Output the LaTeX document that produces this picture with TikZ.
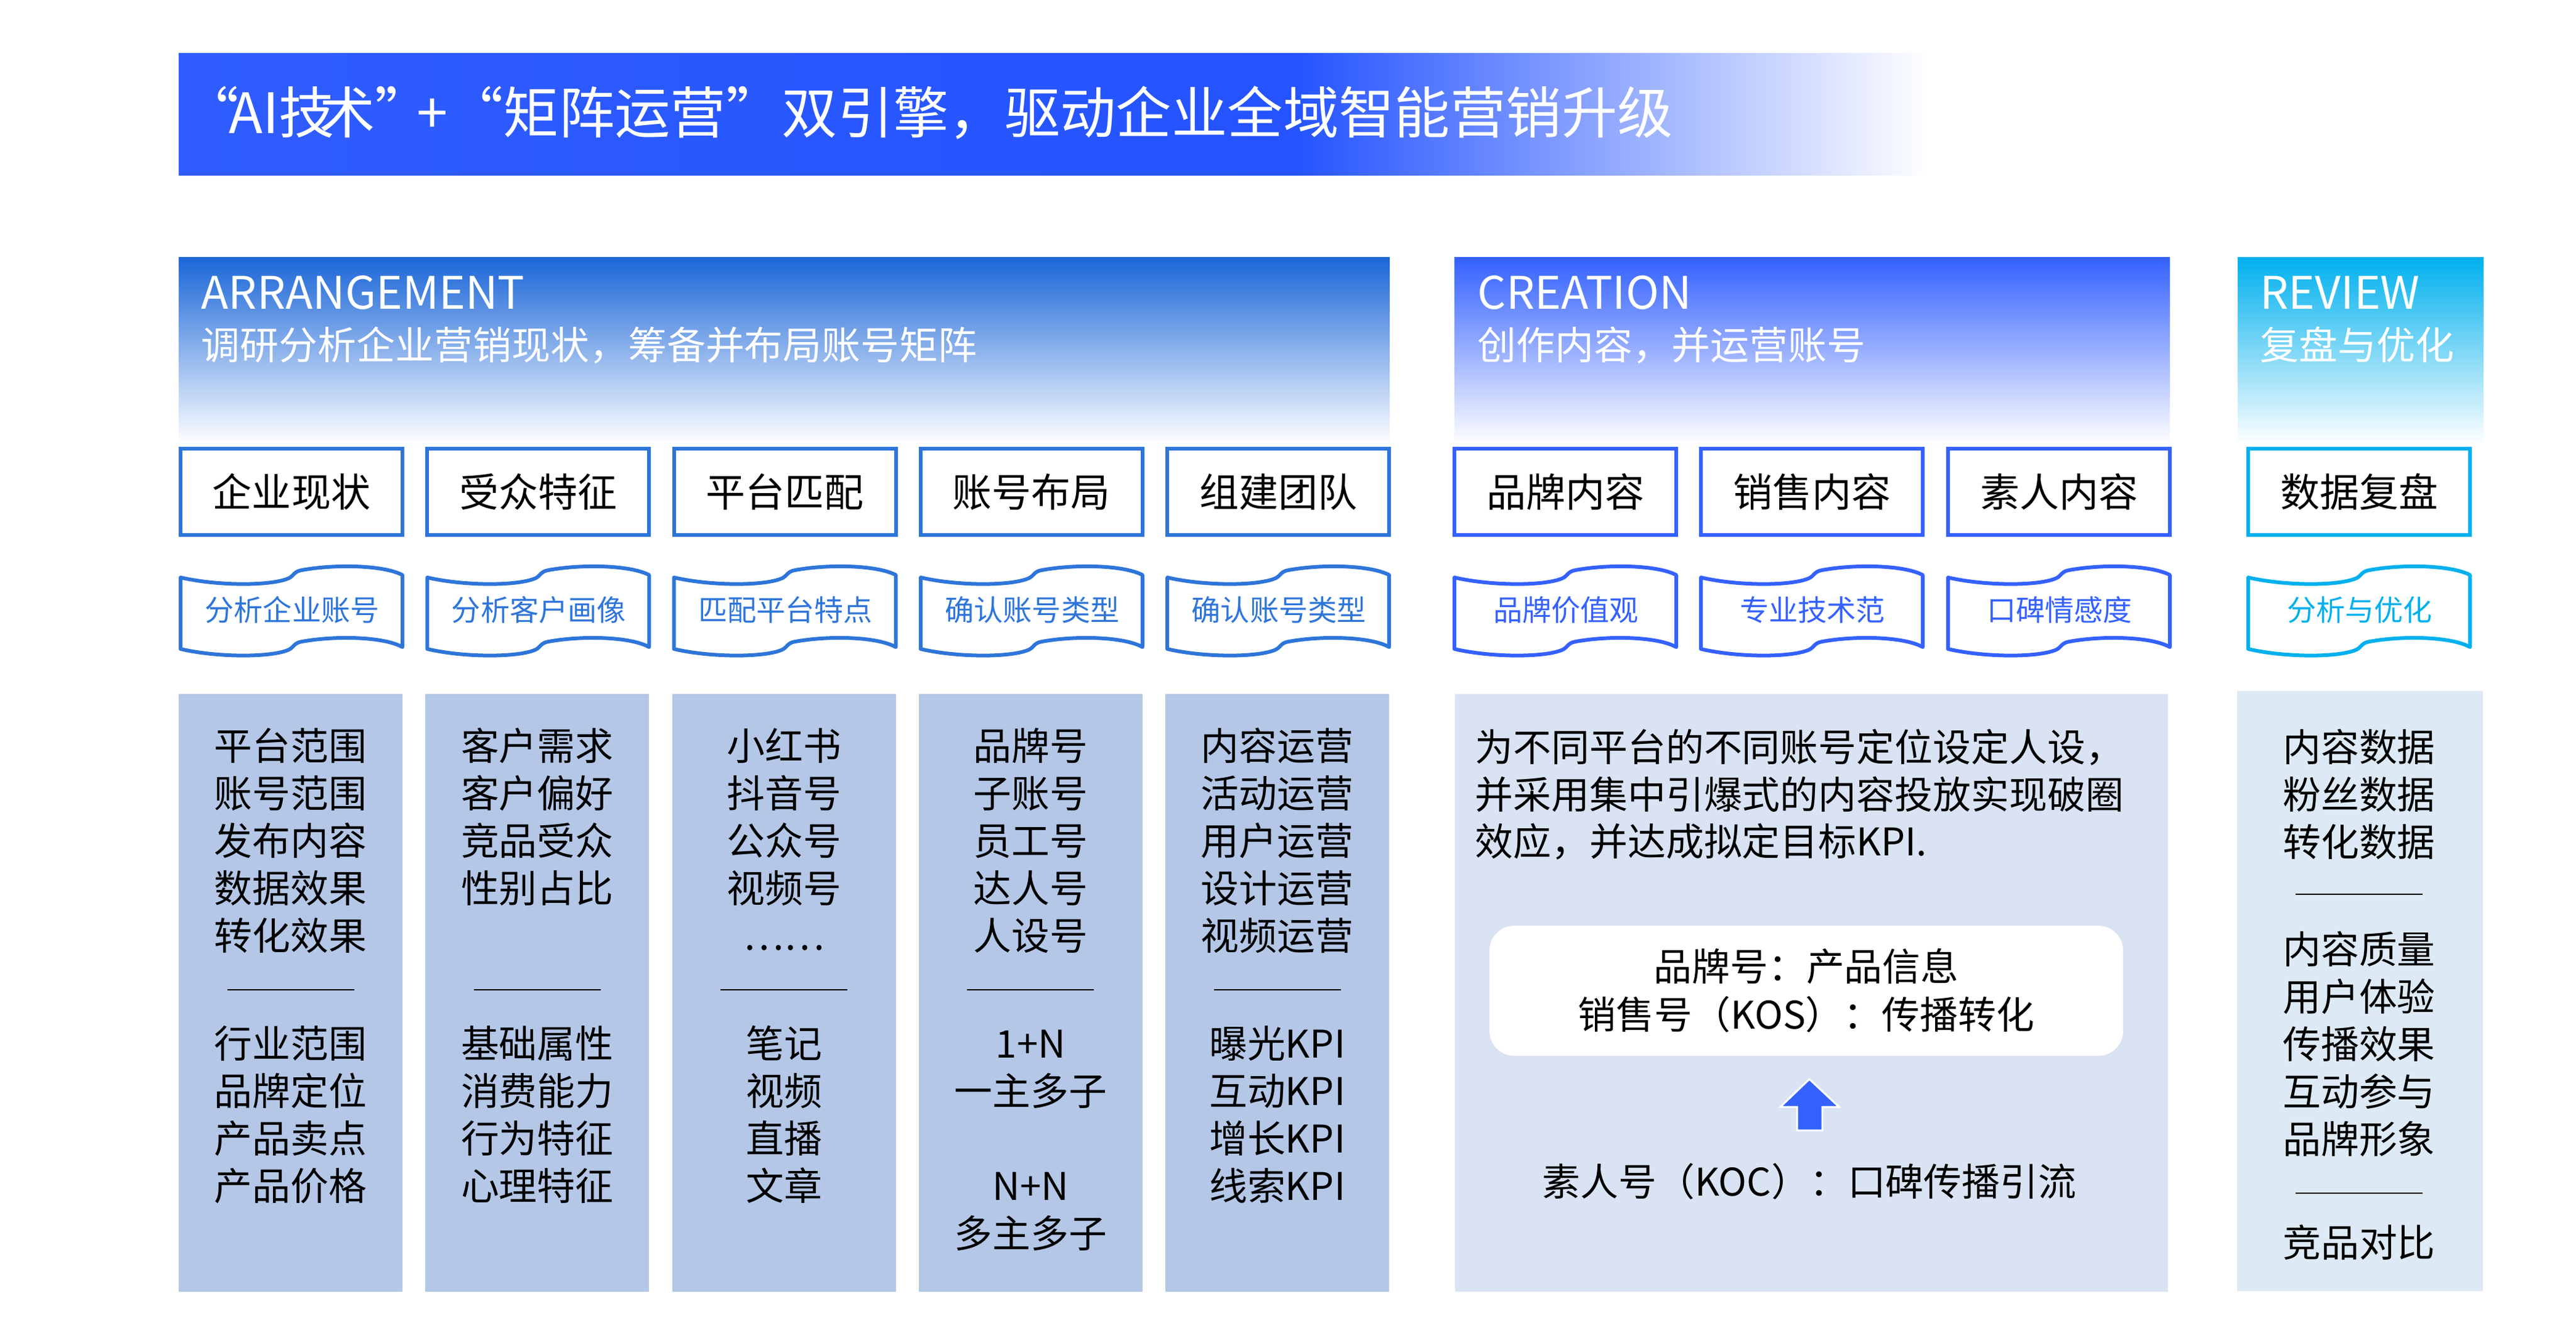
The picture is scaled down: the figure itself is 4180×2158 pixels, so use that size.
\documentclass[tikz,border=0pt]{standalone}
\usepackage{fontspec}
\setmainfont{Noto Sans CJK SC}
\definecolor{arrC}{HTML}{2E75DA}
\definecolor{arrTop}{HTML}{1B66D8}
\definecolor{creC}{HTML}{3461FF}
\definecolor{revC}{HTML}{00B0EE}
\definecolor{panA}{HTML}{B4C7E7}
\definecolor{panC}{HTML}{DAE3F3}
\definecolor{panR}{HTML}{DDEAF6}
\definecolor{titL}{HTML}{2F5DFF}
\definecolor{titM}{HTML}{2453FF}
\tikzset{
  ptext/.style={font=\fontsize{17.6pt}{21pt}\selectfont, text=black, inner sep=0pt, text height=15.5pt, text depth=2.1pt},
  boxnode/.style={draw=#1, line width=0.06cm, minimum width=3.6cm, minimum height=1.4cm, inner sep=0pt, font=\fontsize{18.2pt}{21pt}\selectfont, text=black, fill=white},
  tagtxt/.style={text=#1, font=\fontsize{13.4pt}{16pt}\selectfont, inner sep=0pt, text height=11.8pt, text depth=1.6pt},
  sepline/.style={black, line width=0.02cm},
  headA/.style={font=\fontsize{20.7pt}{24pt}\selectfont, text=white, inner sep=0pt, anchor=base west},
  headB/.style={font=\fontsize{17.9pt}{22pt}\selectfont, text=white, inner sep=0pt, anchor=base west},
}
\newcommand\wavetag[4]{%
  \begin{scope}[shift={(#1,937)}]
    \draw[#2, line width=0.06cm, fill=white, line join=round]
      (0,0) .. controls (60,14) and (148,14) .. (176,1)
      .. controls (184,-3) and (184,-10) .. (197,-12)
      .. controls (252,-22) and (330,-20) .. (360,-4)
      -- (360,113)
      .. controls (330,96) and (252,94) .. (197,104)
      .. controls (184,106) and (184,113) .. (176,117)
      .. controls (148,130) and (60,130) .. (0,116) -- cycle;
    \node[tagtxt=#2] (#3) at (181,53) {#4};
  \end{scope}}
\newcommand\plines[4]{%
  \foreach \t [count=\k] in {#4} {\node[ptext] (#1-\k) at (#2,{#3+77*(\k-1)}) {\t};}}
\begin{document}
\begin{tikzpicture}[x=0.01cm,y=-0.01cm]
\useasboundingbox (0,0) rectangle (4180,2158);
% title bar
\shade[left color=titL, right color=titM] (290,87) rectangle (2101,285);
\shade[left color=titM, right color=white] (2100,87) rectangle (3130,285);
\node[anchor=west, inner sep=0pt, text=white, font=\fontsize{25.7pt}{30pt}\selectfont, text height=22.6pt, text depth=3pt] (title) at (297,182) {“\kern-4.8pt AI技\kern-7pt 术”\kern-6.5pt+“矩阵运营”双引擎，驱动企业全域智能营销升级};
% headers
\shade[top color=arrTop, middle color=arrTop!62!white, bottom color=white] (290,418) rectangle (2255,721);
\shade[top color=creC, middle color=creC!62!white, bottom color=white] (2360,418) rectangle (3521,721);
\shade[top color=revC, middle color=revC!62!white, bottom color=white] (3631,418) rectangle (4030,721);
\node[headA] (hA) at (326,502) {ARRANGEMENT};
\node[headB] (sA) at (326,584) {调研分析企业营销现状，筹备并布局账号矩阵};
\node[headA] (hC) at (2397,502) {CREATION};
\node[headB] (sC) at (2397,584) {创作内容，并运营账号};
\node[headA] (hR) at (3667,502) {REVIEW};
\node[headB] (sR) at (3667,584) {复盘与优化};
% boxes
\node[boxnode=arrC] (b1) at (473,798) {企业现状};
\node[boxnode=arrC] (b2) at (873.3,798) {受众特征};
\node[boxnode=arrC] (b3) at (1273.6,798) {平台匹配};
\node[boxnode=arrC] (b4) at (1673.9,798) {账号布局};
\node[boxnode=arrC] (b5) at (2074.2,798) {组建团队};
\node[boxnode=creC] (b6) at (2540,798) {品牌内容};
\node[boxnode=creC] (b7) at (2940,798) {销售内容};
\node[boxnode=creC] (b8) at (3341,798) {素人内容};
\node[boxnode=revC] (b9) at (3828,798) {数据复盘};
% wave tags
\wavetag{293}{arrC}{t1}{分析企业账号}
\wavetag{693.3}{arrC}{t2}{分析客户画像}
\wavetag{1093.6}{arrC}{t3}{匹配平台特点}
\wavetag{1493.9}{arrC}{t4}{确认账号类型}
\wavetag{1894.2}{arrC}{t5}{确认账号类型}
\wavetag{2360}{creC}{t6}{品牌价值观}
\wavetag{2760}{creC}{t7}{专业技术范}
\wavetag{3161}{creC}{t8}{口碑情感度}
\wavetag{3648}{revC}{t9}{分析与优化}
% panels
\foreach \L in {290,690.3,1090.6,1490.9,1891.2}{\fill[panA] (\L,1126) rectangle ++(363,970);}
\fill[panC] (2361,1126) rectangle (3518,2096);
\fill[panR] (3630,1121) rectangle (4029,2095);
% column texts
\plines{pa}{471.5}{1210}{平台范围,账号范围,发布内容,数据效果,转化效果}
\plines{pb}{471.5}{1693}{行业范围,品牌定位,产品卖点,产品价格}
\plines{qa}{871.8}{1210}{客户需求,客户偏好,竞品受众,性别占比}
\plines{qb}{871.8}{1693}{基础属性,消费能力,行为特征,心理特征}
\plines{ra}{1272.1}{1210}{小红书,抖音号,公众号,视频号,……}
\plines{rb}{1272.1}{1693}{笔记,视频,直播,文章}
\plines{sa}{1672.4}{1210}{品牌号,子账号,员工号,达人号,人设号}
\plines{sb}{1672.4}{1693}{1+N,一主多子}
\plines{sc}{1672.4}{1924}{N+N,多主多子}
\plines{ua}{2072.7}{1210}{内容运营,活动运营,用户运营,设计运营,视频运营}
\plines{ub}{2072.7}{1693}{曝光KPI,互动KPI,增长KPI,线索KPI}
\foreach \c in {471.5,871.8,1272.1,1672.4,2072.7}{\draw[sepline] (\c-103,1606) -- (\c+103,1606);}
% creation panel
\node[ptext, anchor=west] (cp1) at (2393,1212) {为不同平台的不同账号定位设定人设，};
\node[ptext, anchor=west] (cp2) at (2393,1289) {并采用集中引爆式的内容投放实现破圈};
\node[ptext, anchor=west] (cp3) at (2393,1365) {效应，并达成拟定目标KPI.};
\fill[white, rounded corners=0.4cm] (2417,1502) rectangle (3445,1713);
\node[ptext] (bx1) at (2931,1568) {品牌号：产品信息};
\node[ptext] (bx2) at (2931,1646) {销售号（KOS）：传播转化};
\filldraw[fill=creC, draw=white, line width=0.03cm, line join=miter]
  (2936,1751) -- (2984,1796) -- (2957,1796) -- (2957,1834) -- (2916,1834) -- (2916,1796) -- (2889,1796) -- cycle;
\node[ptext] (koc) at (2936,1917) {素人号（KOC）：口碑传播引流};
% review panel
\plines{va}{3828}{1212}{内容数据,粉丝数据,转化数据}
\plines{vb}{3828}{1540}{内容质量,用户体验,传播效果,互动参与,品牌形象}
\node[ptext] (vc) at (3828,2016) {竞品对比};
\draw[sepline] (3725,1451) -- (3931,1451);
\draw[sepline] (3725,1936) -- (3931,1936);
\end{tikzpicture}
\end{document}
